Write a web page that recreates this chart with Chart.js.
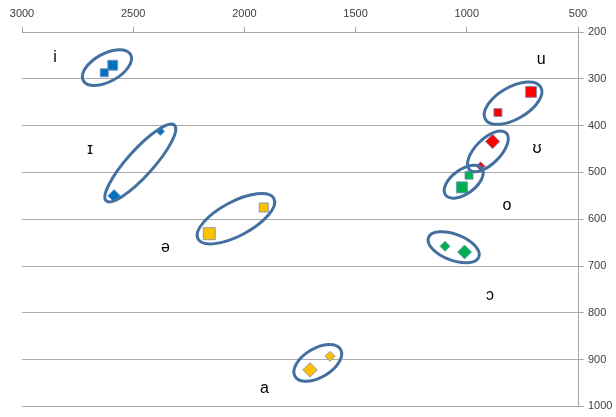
<!DOCTYPE html>
<html>
<head>
<meta charset="utf-8">
<script src="https://cdn.jsdelivr.net/npm/chart.js@4"></script>
<style>
  html, body { margin: 0; padding: 0; background: #fff; }
  #wrap { width: 616px; height: 417px; }
</style>
</head>
<body>
<div id="wrap"><canvas id="chart-vowels"></canvas></div>
<script>
// vowel formants (F2 on x, F1 on y), two tokens per vowel
const vowels = ["i", "ɪ", "ə", "a", "u", "ʊ", "o", "ɔ"];
const f2Large = [2592, 2586, 2158, 1705, 711, 884, 1022, 1010];
const f1Large = [271, 550, 631, 922, 328, 434, 532, 670];
const f2Small = [2630, 2378, 1913, 1615, 860, 938, 990, 1098];
const f1Small = [287, 412, 575, 893, 372, 487, 506, 658];

// where the vowel symbols sit, in Hz
const labelF2 = [2852, 2694, 2355, 1910, 666, 684, 819, 896];
const labelF1 = [255, 452, 661, 962, 259, 450, 570, 763];

// ellipse centres, in Hz
const ringF2 = [2618, 2468, 2038, 1670, 792, 905, 1014, 1059];
const ringF1 = [276, 480, 599, 907, 352, 455, 520, 660];

const xTicks = [3000, 2500, 2000, 1500, 1000, 500];
const yTicks = [200, 300, 400, 500, 600, 700, 800, 900, 1000];

// styling
const colors = ["#0070C0", "#0070C0", "#FFC000", "#FFC000", "#FF0000", "#FF0000", "#00B050", "#00B050"];
const shapes = ["rect", "rectRot", "rect", "rectRot", "rect", "rectRot", "rect", "rectRot"];
const radii = [[7, 5.7], [6.2, 4.2], [8.5, 6.4], [7.2, 5], [7.8, 5.7], [7.2, 4.5], [7.8, 5.7], [7, 5]];
const rings = [
  { a: 27, b: 14, rot: -29 },
  { a: 51, b: 13, rot: -48 },
  { a: 43, b: 17, rot: -28 },
  { a: 26.5, b: 14.5, rot: -31 },
  { a: 32, b: 16, rot: -30 },
  { a: 26, b: 12.5, rot: -45 },
  { a: 22.5, b: 12, rot: -36 },
  { a: 27, b: 13, rot: 21 }
];

const datasets = vowels.map((v, i) => ({
  label: v,
  data: [
    { x: f2Large[i], y: f1Large[i] },
    { x: f2Small[i], y: f1Small[i] }
  ],
  pointStyle: shapes[i],
  pointRadius: radii[i],
  backgroundColor: colors[i],
  borderColor: "rgba(120,150,190,0.9)",
  borderWidth: 1
}));

const ringsAndLabels = {
  id: "ringsAndLabels",
  afterDatasetsDraw(chart) {
    const ctx = chart.ctx;
    const xs = chart.scales.x, ys = chart.scales.y;
    ctx.save();
    ctx.strokeStyle = "#44709F";
    ctx.lineWidth = 3;
    rings.forEach((r, i) => {
      const cx = xs.getPixelForValue(ringF2[i]);
      const cy = ys.getPixelForValue(ringF1[i]);
      ctx.beginPath();
      ctx.ellipse(cx, cy, r.a, r.b, r.rot * Math.PI / 180, 0, Math.PI * 2);
      ctx.stroke();
    });
    ctx.fillStyle = "#000";
    ctx.font = "16px 'Liberation Sans', 'DejaVu Sans', sans-serif";
    ctx.textAlign = "center";
    ctx.textBaseline = "middle";
    vowels.forEach((v, i) => {
      ctx.fillText(v, xs.getPixelForValue(labelF2[i]), ys.getPixelForValue(labelF1[i]));
    });
    ctx.restore();
  }
};

new Chart(document.getElementById("chart-vowels"), {
  type: "scatter",
  data: { datasets: datasets },
  options: {
    responsive: true,
    maintainAspectRatio: false,
    animation: false,
    layout: { padding: { left: 22, bottom: 7, top: 0, right: 0 } },
    plugins: { legend: { display: false }, tooltip: { enabled: false } },
    scales: {
      x: {
        type: "linear",
        position: "top",
        reverse: true,
        min: 500,
        max: 3000,
        afterBuildTicks: (s) => { s.ticks = xTicks.map((v) => ({ value: v })); },
        afterFit: (s) => { s.height = 32; },
        ticks: {
          color: "#404040",
          font: { family: "'Liberation Sans', sans-serif", size: 11 },
          padding: 6,
          maxRotation: 0,
          callback: (v) => String(v)
        },
        grid: { drawOnChartArea: false, drawTicks: true, tickLength: 5, tickColor: "#A6A6A6" },
        border: { color: "#A6A6A6" }
      },
      y: {
        type: "linear",
        position: "right",
        reverse: true,
        min: 200,
        max: 1000,
        afterBuildTicks: (s) => { s.ticks = yTicks.map((v) => ({ value: v })); },
        afterFit: (s) => { s.width = 38; },
        ticks: {
          color: "#404040",
          font: { family: "'Liberation Sans', sans-serif", size: 11 },
          padding: 4,
          callback: (v) => String(v)
        },
        grid: { color: "#ABABAB", tickLength: 6, tickColor: "#ABABAB" },
        border: { color: "#A6A6A6" }
      }
    }
  },
  plugins: [ringsAndLabels]
});
</script>
</body>
</html>
